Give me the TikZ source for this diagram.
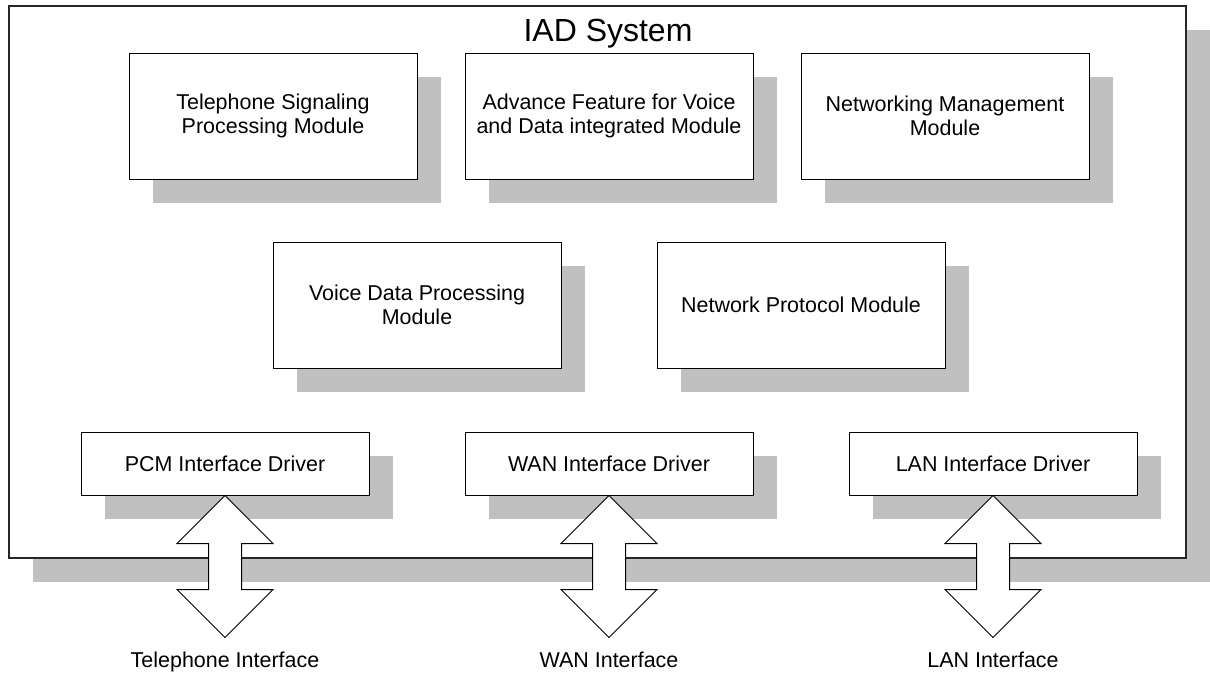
\documentclass[tikz,border=0pt]{standalone}
\usepackage{fontspec}
\setmainfont{Liberation Sans}
\usetikzlibrary{shadows}
\definecolor{shade}{RGB}{192,192,192}
\newcommand\bodyfont{\fontsize{16.1}{17.6}\selectfont}
\newcommand\titlefont{\fontsize{24}{28}\selectfont}
\tikzset{
  boxshadow/.style={general shadow={fill=shade, shadow xshift=18pt, shadow yshift=-18pt}},
  frame/.style={draw=black!85, line width=1.1pt, fill=white, inner sep=0pt,
    minimum width=882.75pt, minimum height=414pt, boxshadow},
  module/.style={draw=black, line width=0.75pt, fill=white, inner sep=0pt,
    minimum width=216pt, minimum height=94.5pt, align=center, font=\bodyfont, boxshadow},
  driver/.style={module, minimum height=47.25pt},
  dblarrow/.style={draw=black, fill=white, line width=0.75pt, line join=miter},
  iolabel/.style={anchor=base, font=\bodyfont, inner sep=0pt},
}
\begin{document}
\begin{tikzpicture}[x=0.75pt, y=-0.75pt]
\useasboundingbox (0,0) rectangle (1210,672);

% system frame
\node[frame] (iad) at (597.5,282) {};
\node[anchor=base, font=\titlefont, inner sep=0pt] (title) at (608,41) {IAD System};

% upper modules
\node[module] (tsp) at (273,116) {Telephone Signaling\\Processing Module};
\node[module] (adv) at (609,116) {Advance Feature for Voice\\and Data integrated Module};
\node[module] (nmm) at (945,116) {Networking Management\\Module};

% middle modules
\node[module] (vdp) at (417,305) {Voice Data Processing\\Module};
\node[module] (npm) at (801,305) {Network Protocol Module};

% interface drivers
\node[driver] (pcm) at (225,463.5) {PCM Interface Driver};
\node[driver] (wan) at (609,463.5) {WAN Interface Driver};
\node[driver] (lan) at (993,463.5) {LAN Interface Driver};

% double-headed block arrows out of the drivers
\foreach \d in {pcm,wan,lan}{
  \draw[dblarrow] (\d.south) -- ++(48,48) -- ++(-31.5,0) -- ++(0,46) -- ++(31.5,0)
    -- ++(-48,48) -- ++(-48,-48) -- ++(31.5,0) -- ++(0,-46) -- ++(-31.5,0) -- cycle;
}

% external interfaces
\node[iolabel] (telif) at (225,667) {Telephone Interface};
\node[iolabel] (wanif) at (609,667) {WAN Interface};
\node[iolabel] (lanif) at (993,667) {LAN Interface};
\end{tikzpicture}
\end{document}
